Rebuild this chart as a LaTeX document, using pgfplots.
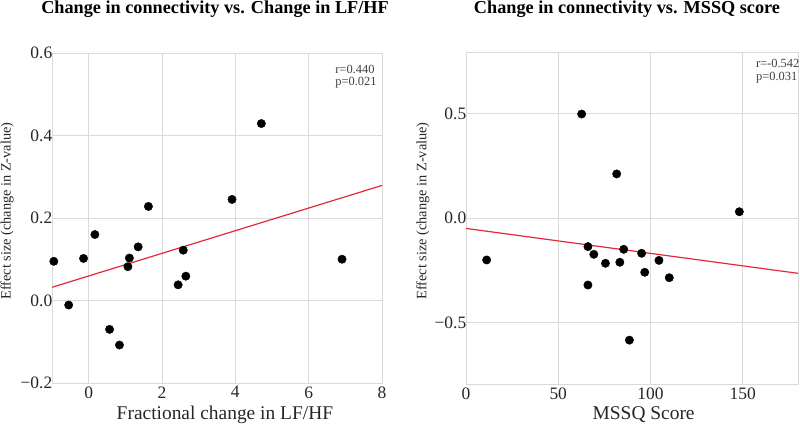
\documentclass[border=0pt]{standalone}
\usepackage{fontspec}
\setmainfont{Liberation Serif}
\usepackage{pgfplots}
\pgfplotsset{compat=1.18}

\definecolor{gridgray}{RGB}{218,218,218}
\definecolor{fitred}{RGB}{228,40,55}

\pgfplotsset{
  panel/.style={
    scale only axis,
    axis line style={gridgray, line width=0.9bp},
    grid=major,
    major grid style={gridgray, line width=0.9bp},
    major tick length=0pt,
    tick label style={font=\fontsize{17.5}{20}\selectfont, text=black!85},
    yticklabel style={xshift=3.8bp},
    label style={font=\fontsize{19.5}{22}\selectfont, text=black!85},
  },
  dots/.style={only marks, mark=*, mark size=4.2bp, black},
  fit/.style={fitred, line width=1.2bp, no marks},
}

\begin{document}
\begin{tikzpicture}
\path[use as bounding box] (0,0) rectangle (800bp,430bp);

% left panel
\begin{axis}[panel,
  at={(52bp,47bp)}, anchor=south west,
  width=330bp, height=330bp,
  xmin=-1, xmax=8, ymin=-0.2, ymax=0.6,
  xtick={0,2,4,6,8}, xticklabels={0,2,4,6,8},
  ytick={-0.2,0,0.2,0.4,0.6}, yticklabels={−0.2,0.0,0.2,0.4,0.6},
  title={Change in connectivity vs. Change in LF/HF},
  every axis title/.style={at={(axis description cs:0.494,1.120)}, anchor=base,
    font=\fontsize{18.3}{20}\selectfont\bfseries},
  xlabel={Fractional change in LF/HF},
  xlabel style={at={(axis description cs:0.524,-0.112)}, anchor=base},
  ylabel={Effect size (change in Z-value)},
  ylabel style={at={(axis description cs:-0.136,0.521)}, rotate=0, anchor=center, font=\fontsize{14.4}{16}\selectfont},
]
\addplot[fit] coordinates {(-1,0.032) (8,0.279)};
\addplot[dots] table {
x y
-0.95 0.095
-0.545 -0.011
-0.14 0.102
0.17 0.160
0.57 -0.070
0.84 -0.108
1.07 0.082
1.11 0.103
1.35 0.130
1.63 0.228
2.44 0.038
2.58 0.122
2.65 0.059
3.91 0.245
4.71 0.429
6.91 0.100
};
\node[anchor=north west, align=left, inner sep=0, text=black!75,
  font=\fontsize{12.5}{12.5}\selectfont] at (rel axis cs:0.858,0.964) {r=0.440\\p=0.021};
\end{axis}

% right panel
\begin{axis}[panel,
  at={(466bp,46bp)}, anchor=south west,
  width=332bp, height=332bp,
  xmin=0, xmax=180, ymin=-0.795, ymax=0.795,
  xtick={0,50,100,150}, xticklabels={0,50,100,150},
  ytick={-0.5,0,0.5}, yticklabels={−0.5,0.0,0.5},
  title={Change in connectivity vs. MSSQ score},
  every axis title/.style={at={(axis description cs:0.485,1.116)}, anchor=base,
    font=\fontsize{18.3}{20}\selectfont\bfseries},
  xlabel={MSSQ Score},
  xlabel style={at={(axis description cs:0.535,-0.108)}, anchor=base},
  ylabel={Effect size (change in Z-value)},
  ylabel style={at={(axis description cs:-0.13,0.521)}, rotate=0, anchor=center, font=\fontsize{14.4}{16}\selectfont},
]
\addplot[fit] coordinates {(0,-0.050) (180,-0.265)};
\addplot[dots] table {
x y
11.2 -0.201
62.7 0.498
66.1 -0.137
66.1 -0.321
69.3 -0.174
75.6 -0.217
81.7 0.211
83.4 -0.212
85.5 -0.150
88.6 -0.585
95.2 -0.169
96.9 -0.260
104.6 -0.203
110.2 -0.286
148.2 0.030
};
\node[anchor=north west, align=left, inner sep=0, text=black!75,
  font=\fontsize{12.5}{12.5}\selectfont] at (rel axis cs:0.873,0.978) {r=-0.542\\p=0.031};
\end{axis}
\end{tikzpicture}
\end{document}
